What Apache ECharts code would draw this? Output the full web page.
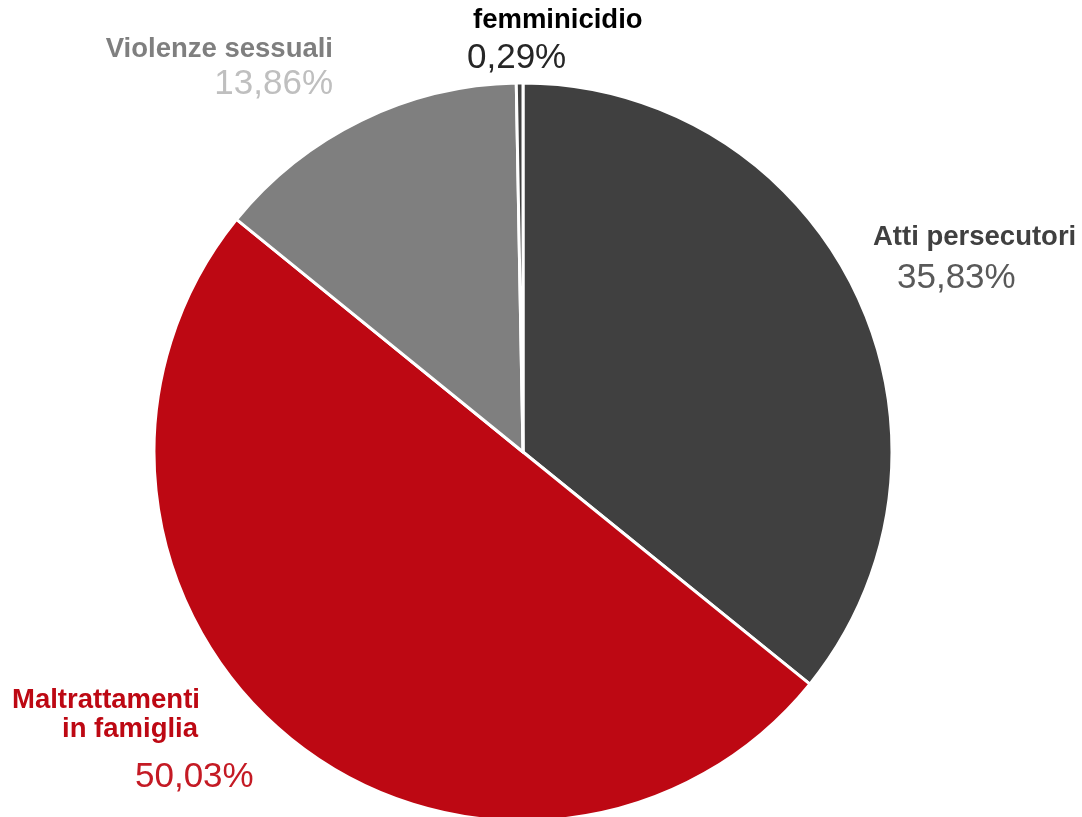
<!DOCTYPE html>
<html><head><meta charset="utf-8">
<script src="https://cdn.jsdelivr.net/npm/echarts@6/dist/echarts.min.js"></script>
<style>html,body{margin:0;padding:0;background:#fff}#c{width:1082px;height:817px}</style>
</head><body><div id="c"></div>
<script>
const categories = ['Atti persecutori', 'Maltrattamenti in famiglia', 'Violenze sessuali', 'femminicidio'];
const labelNames = ['Atti persecutori', 'Maltrattamenti\nin famiglia', 'Violenze sessuali', 'femminicidio'];
const values = [35.83, 50.03, 13.86, 0.29];
const sliceColors = ['#404040', '#BD0813', '#7F7F7F', '#404040'];
const nameColors = ['#404040', '#BD0813', '#7F7F7F', '#000000'];
const valueColors = ['#595959', '#C41A24', '#BFBFBF', '#262626'];
// label placement (anchor x, top y, alignment, indents, line heights)
const labelLayouts = [
  { x: 873, y: 223, align: 'left', nameIndent: 0, valueIndent: 24, valueLH: 52 },
  { x: 12, y: 686, align: 'left', width: 186, nameIndent: 0, valueIndent: 123, valueLH: 66, secondLineRight: true },
  { x: 333, y: 35, align: 'right', nameIndent: 0, valueIndent: 0, valueLH: 41 },
  { x: 467, y: 6, align: 'left', nameIndent: 6, valueIndent: 0, valueLH: 46 }
];
const FONT = '"Liberation Sans", Arial, sans-serif';

function fmt(v) { return v.toFixed(2).replace('.', ',') + '%'; }

const data = categories.map((name, i) => {
  const L = labelLayouts[i];
  const lines = labelNames[i].split('\n');
  const rich = {};
  lines.forEach((l, j) => {
    rich['n' + j] = {
      fontFamily: FONT, fontWeight: 'bold', fontSize: 27.5, lineHeight: 29,
      color: nameColors[i],
      align: (j > 0 && L.secondLineRight) ? 'right' : L.align,
      padding: [0, 0, 0, L.nameIndent]
    };
  });
  rich.v = {
    fontFamily: FONT, fontSize: 35, lineHeight: L.valueLH,
    color: valueColors[i], align: L.align,
    padding: [0, 0, 0, L.valueIndent]
  };
  const label = {
    show: true,
    position: 'outside',
    overflow: 'none',
    formatter: lines.map((l, j) => '{n' + j + '|' + l + '}').join('\n') + '\n{v|' + fmt(values[i]) + '}',
    rich: rich
  };
  if (L.width) label.width = L.width;
  return { name: name, value: values[i], itemStyle: { color: sliceColors[i] }, label: label };
});

const chart = echarts.init(document.getElementById('c'), null, { renderer: 'canvas' });
chart.setOption({
  animation: false,
  backgroundColor: '#ffffff',
  series: [{
    type: 'pie',
    center: [523, 452],
    radius: 369,
    startAngle: 90,
    clockwise: true,
    avoidLabelOverlap: false,
    itemStyle: { borderColor: '#ffffff', borderWidth: 3 },
    emphasis: { scale: false },
    labelLine: { show: false },
    labelLayout: function (params) {
      const L = labelLayouts[params.dataIndex];
      return { x: L.x, y: L.y, align: L.align, verticalAlign: 'top' };
    },
    data: data
  }]
});
</script>
</body></html>
